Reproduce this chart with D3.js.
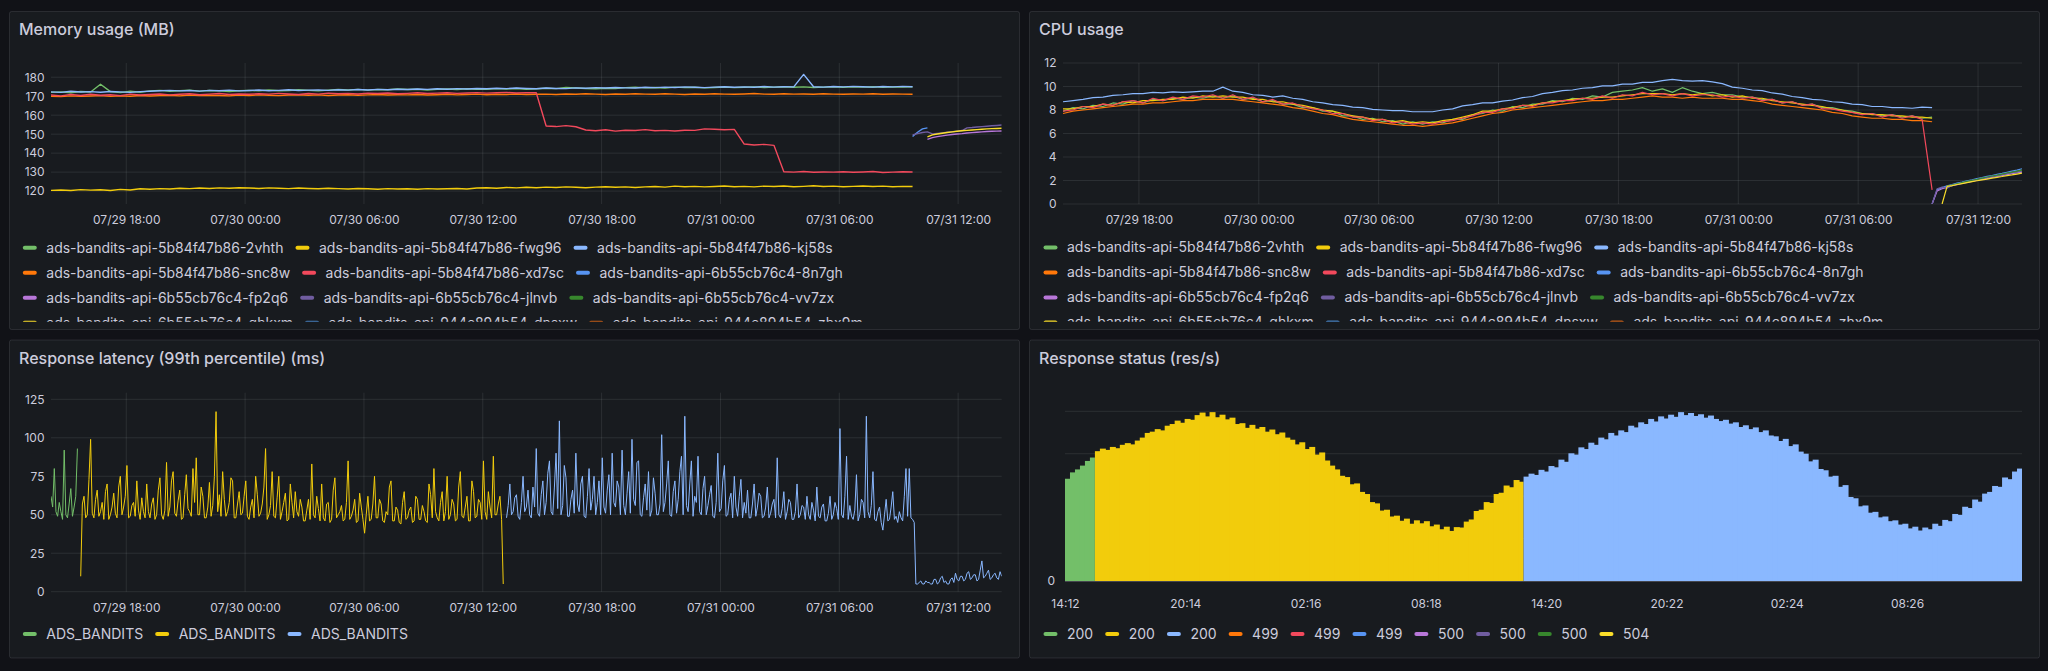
<!DOCTYPE html>
<html lang="en">
<head>
<meta charset="UTF-8">
<title>ads-bandits dashboard</title>
<script src="https://d3js.org/d3.v7.min.js"></script>
<style>
  html, body { margin: 0; padding: 0; background: #111217; }
  svg { display: block; font-family: Inter, "Noto Sans", sans-serif; }
  .panel { fill: #181b1f; stroke: rgba(204, 204, 220, 0.12); }
  .title { fill: #ccccdc; font-size: 16px; font-weight: 500; }
  .grid line { stroke: rgba(240, 250, 255, 0.09); }
  .legend text { fill: #ccccdc; font-size: 14px; }
</style>
</head>
<body>
<script>
// ---------- data ----------
const podNames = [
  'ads-bandits-api-5b84f47b86-2vhth', 'ads-bandits-api-5b84f47b86-fwg96', 'ads-bandits-api-5b84f47b86-kj58s',
  'ads-bandits-api-5b84f47b86-snc8w', 'ads-bandits-api-5b84f47b86-xd7sc', 'ads-bandits-api-6b55cb76c4-8n7gh',
  'ads-bandits-api-6b55cb76c4-fp2q6', 'ads-bandits-api-6b55cb76c4-jlnvb', 'ads-bandits-api-6b55cb76c4-vv7zx',
  'ads-bandits-api-6b55cb76c4-qhkxm', 'ads-bandits-api-944c894b54-dnsxw', 'ads-bandits-api-944c894b54-zhx9m'
];
const podColors = ['#73BF69', '#F2CC0C', '#8AB8FF', '#FF780A', '#F2495C', '#5794F2',
  '#B877D9', '#705DA0', '#37872D', '#FADE2A', '#447EBC', '#C15C17'];

// old pods: one sample every 30 min from 07/29 14:12
const memGreen = [172.0,172.3,171.8,172.5,172.2,176.3,172.4,171.9,172.6,172.1,
  172.8,173.1,172.6,172.9,173.2,172.7,173.0,172.8,172.5,172.9,
  173.1,172.8,173.3,172.9,173.0,173.4,173.1,172.8,173.2,173.5,
  173.3,173.6,173.2,173.5,173.4,173.8,173.5,173.7,173.3,173.6,
  173.8,173.5,173.9,173.6,173.7,174.0,173.8,174.1,173.7,173.9,
  174.2,174.0,174.6,174.3,174.1,173.9,174.2,174.0,174.5,174.7,
  174.4,174.6,174.3,174.8,174.5,174.7,174.4,174.6,174.8,174.5,
  174.7,174.9,174.6,174.8,175.0,174.7,174.9,174.6,174.8,175.0,
  174.7,174.9,174.8,175.0,174.7,174.9,174.8,174.9];
const memYellow = [120.4,120.6,120.3,120.8,120.5,120.7,120.3,120.9,120.6,121.2,
  121.0,121.3,121.1,121.5,121.3,121.6,121.4,121.7,121.5,121.8,
  121.6,121.4,121.7,121.5,121.3,121.6,121.4,121.2,121.5,121.3,
  121.1,121.4,121.2,121.0,121.3,121.1,121.2,121.0,121.3,121.1,
  121.2,121.4,121.1,121.6,121.8,121.5,121.9,121.7,122.0,121.8,
  122.1,121.9,122.2,122.0,121.8,122.1,122.3,122.0,122.2,121.9,
  122.2,122.4,122.1,122.6,122.3,122.5,122.2,122.4,122.7,122.3,
  122.5,122.2,122.6,122.4,122.7,122.3,122.5,122.8,122.4,122.6,
  122.3,122.5,122.7,122.4,122.6,122.3,122.5,122.4];
const memLightBlue = [172.3,172.0,172.6,172.2,172.4,172.1,172.5,172.3,172.0,172.4,
  172.6,172.9,173.1,172.8,173.0,172.7,173.1,172.9,173.2,172.8,
  173.0,173.3,172.9,173.1,173.4,173.0,173.2,173.3,173.1,173.4,
  173.2,173.5,173.3,173.6,173.4,173.7,173.5,173.8,173.6,173.9,
  173.7,174.0,173.8,174.1,173.9,174.2,174.0,174.3,174.1,173.9,
  174.3,174.1,174.0,174.4,174.2,174.5,174.3,174.6,174.4,174.3,
  174.7,174.5,174.8,174.6,174.9,174.7,174.5,174.8,175.0,174.7,
  174.9,174.7,175.1,174.8,175.0,174.9,181.5,175.0,174.8,175.1,
  174.9,175.2,175.0,174.8,175.1,174.9,175.2,175.0];
const memOrange = [170.0,169.8,170.2,169.9,170.1,170.3,169.9,170.2,170.0,170.4,
  170.1,170.3,170.5,170.2,170.6,170.3,170.5,170.4,170.2,170.6,
  170.4,170.7,170.5,170.3,170.6,170.8,170.5,170.7,170.4,170.6,
  170.8,170.5,170.7,170.9,170.6,170.8,170.7,170.9,170.6,170.8,
  171.0,170.7,170.9,171.1,170.8,171.0,170.9,171.2,170.9,171.0,
  171.1,170.9,171.2,171.0,171.3,171.1,170.9,171.2,171.0,171.3,
  171.1,171.0,171.3,171.1,170.9,171.2,171.0,171.3,171.1,171.0,
  171.2,171.4,171.1,171.0,171.3,171.1,171.2,171.0,171.3,171.1,
  171.0,171.2,171.1,171.3,171.0,171.2,171.1,171.0];
const memRed = [170.6,170.2,170.9,170.4,171.0,170.5,170.8,170.3,171.1,170.6,
  170.9,171.2,170.7,171.0,171.3,170.8,171.1,171.4,170.9,171.2,
  171.0,171.3,171.1,171.5,171.2,170.9,171.4,171.1,171.6,171.3,
  171.5,171.2,171.6,171.4,171.7,171.3,171.5,171.8,171.4,171.6,
  171.8,171.5,171.7,171.9,171.6,171.8,172.0,171.7,171.9,171.8,
  154.3,154.0,154.5,153.9,152.2,151.8,152.3,151.6,152.1,151.9,
  152.4,151.8,152.0,151.7,152.1,152.0,152.8,152.6,152.3,152.5,
  144.8,144.3,144.6,144.1,130.2,130.0,130.3,129.9,130.1,130.0,
  130.2,129.9,130.1,130.3,129.8,130.0,130.2,130.1];
// new pods: one sample every 15 min from 07/31 09:42
const mem8n7gh = [148.8,151.0,152.8,153.3];
const memFp2q6 = [null,null,null,147.3,148.2,148.7,149.1,149.5,149.8,150.1,150.3,150.6,150.8,151.0,151.2,151.4,151.5,151.6,151.7];
const memJlnvb = [149.6,150.3,150.9,151.2,150.1,150.4,150.7,151.0,151.3,151.6,151.9,153.3,153.5,153.8,154.0,154.2,154.4,154.6,154.8];
const memQhkxm = [null,null,null,148.6,149.6,150.1,150.5,150.9,151.2,151.5,151.8,152.0,152.2,152.4,152.6,152.8,152.9,153.0,153.1];

const cpuGreen = [7.9,8.2,8.1,8.4,8.3,8.6,8.5,8.8,8.6,8.9,
  8.8,9.0,8.9,9.1,9.0,9.2,9.0,9.2,8.9,9.0,
  8.7,8.8,8.5,8.5,8.2,8.2,7.9,7.9,7.5,7.5,
  7.2,7.3,7.0,7.1,6.8,7.0,6.8,7.0,6.9,7.2,
  7.2,7.6,7.7,8.0,7.9,8.3,8.2,8.5,8.5,8.8,
  8.7,9.0,8.9,9.2,9.1,9.5,9.6,9.7,9.9,9.6,
  9.8,9.5,9.9,9.6,9.4,9.5,9.3,9.3,9.1,9.1,
  8.9,8.9,8.6,8.7,8.4,8.5,8.2,8.2,8.0,7.9,
  7.7,7.7,7.5,7.6,7.4,7.5,7.3,7.4];
const cpuYellow = [8.1,8.1,8.3,8.3,8.5,8.4,8.7,8.6,8.8,8.8,
  8.9,8.9,9.1,9.0,9.2,9.1,9.2,9.1,9.1,8.9,
  8.9,8.7,8.7,8.5,8.4,8.2,8.0,7.9,7.7,7.5,
  7.4,7.2,7.2,7.0,7.1,6.9,7.0,6.9,7.1,7.2,
  7.4,7.6,7.9,7.9,8.1,8.2,8.4,8.4,8.6,8.7,
  8.8,8.9,9.0,9.0,9.1,9.1,9.2,9.3,9.4,9.4,
  9.4,9.3,9.4,9.3,9.4,9.2,9.3,9.1,9.2,9.0,
  9.0,8.8,8.7,8.6,8.5,8.4,8.3,8.1,8.0,7.8,
  7.7,7.6,7.6,7.5,7.5,7.4,7.4,7.3];
const cpuLightBlue = [8.7,8.8,8.9,9.05,9.1,9.25,9.3,9.4,9.4,9.5,
  9.45,9.55,9.5,9.55,9.6,9.6,9.95,9.6,9.5,9.3,
  9.25,9.1,9.2,9.0,8.9,8.7,8.6,8.45,8.4,8.25,
  8.2,8.05,8.0,7.95,7.95,7.85,7.85,7.85,8.0,8.1,
  8.35,8.45,8.6,8.6,8.75,8.85,9.05,9.15,9.4,9.5,
  9.65,9.7,9.85,9.9,10.05,10.05,10.2,10.2,10.35,10.35,
  10.5,10.6,10.5,10.45,10.5,10.4,10.25,9.95,9.85,9.7,
  9.65,9.45,9.35,9.15,9.05,8.9,8.85,8.7,8.65,8.5,
  8.45,8.3,8.3,8.2,8.2,8.15,8.25,8.2];
const cpuOrange = [7.7,7.9,8.0,8.1,8.2,8.3,8.4,8.5,8.5,8.6,
  8.6,8.7,8.8,8.8,8.9,8.9,8.9,8.9,8.8,8.7,
  8.6,8.5,8.4,8.2,8.1,7.9,7.7,7.6,7.4,7.2,
  7.1,7.0,6.9,6.8,6.7,6.7,6.6,6.7,6.8,6.9,
  7.1,7.3,7.5,7.7,7.8,8.0,8.1,8.2,8.3,8.4,
  8.5,8.6,8.7,8.8,8.8,8.9,8.9,9.0,9.1,9.2,
  9.1,9.1,9.0,9.1,9.0,9.0,9.0,8.9,8.9,8.8,
  8.7,8.5,8.4,8.3,8.2,8.1,8.0,7.8,7.7,7.5,
  7.4,7.3,7.3,7.2,7.2,7.1,7.1,7.0];
const cpuRed = [7.9,8.0,8.3,8.2,8.5,8.4,8.7,8.8,8.6,9.0,
  8.8,9.1,8.9,9.2,9.1,9.3,9.0,9.3,8.9,9.1,
  8.7,8.9,8.5,8.6,8.3,8.1,8.0,7.7,7.7,7.4,
  7.4,7.1,7.2,6.9,7.0,6.8,6.9,6.8,7.0,7.1,
  7.3,7.5,7.8,7.8,8.1,8.1,8.4,8.3,8.6,8.6,
  8.8,8.8,9.0,8.9,9.2,9.0,9.3,9.2,9.5,9.3,
  9.4,9.2,9.4,9.2,9.3,9.3,9.1,9.2,9.0,9.1,
  8.8,8.9,8.6,8.7,8.4,8.5,8.1,8.1,7.9,7.8,
  7.6,7.7,7.4,7.6,7.3,7.5,7.2,1.2];
const cpu8n7gh = [0,1.2,1.4,1.55,1.65,1.78,1.86,1.98,2.06,2.17,2.24,2.35,2.42,2.52,2.6,2.7,2.8,2.88,3.0];
const cpuFp2q6 = [0,1.1,1.3,1.42,1.55,1.64,1.75,1.84,1.93,2.02,2.1,2.18,2.26,2.34,2.42,2.5,2.58,2.65,2.72];
const cpuJlnvb = [0,1.3,1.45,1.35,1.6,1.7,1.8,1.9,2.0,2.08,2.16,2.25,2.33,2.4,2.5,2.58,2.66,2.74,2.8];
const cpuVv7zx = [null,null,null,1.52,1.62,1.72,1.82,1.92,2.02,2.1,2.2,2.3,2.38,2.46,2.55,2.64,2.72,2.8,2.88];
const cpuQhkxm = [null,null,0,1.5,1.56,1.66,1.74,1.82,1.9,1.98,2.05,2.12,2.2,2.27,2.34,2.42,2.48,2.55,2.62];

// latency p99 (ms), one sample every 5 min
const latencyNames = ['ADS_BANDITS', 'ADS_BANDITS', 'ADS_BANDITS'];
const latencyColors = ['#73BF69', '#F2CC0C', '#8AB8FF'];
const latencyGreen = [62,55,80,52,49,58,52,47,92,50,48,57,67,49,55,62,93];   // from 14:12
const latencyYellow = [                                                      // from 15:42
  10,57,62,48,50,73,99,51,48,60,66,49,52,58,47,65,70,47,50,55,
  64,51,48,68,75,50,55,62,82,48,49,56,58,49,72,53,47,61,52,48,
  70,52,48,57,61,47,50,66,74,50,47,53,84,49,55,72,78,51,49,59,
  66,47,48,63,76,54,52,49,80,58,87,50,50,68,62,48,48,55,71,49,
  56,75,117,52,63,49,78,60,49,52,58,74,72,48,48,57,65,50,51,62,
  72,49,47,55,60,48,75,63,49,51,57,68,93,47,50,56,78,49,48,61,
  75,47,52,58,64,46,47,70,58,48,65,52,49,60,55,46,46,53,60,47,
  83,50,48,62,54,46,70,48,46,57,58,45,47,66,74,48,50,52,56,46,
  47,58,85,47,49,53,60,45,46,64,55,47,38,50,62,46,47,57,75,48,
  48,60,57,46,45,52,50,68,72,46,46,55,53,45,44,58,65,47,48,53,
  55,45,46,62,60,47,47,56,52,46,45,70,63,48,80,52,48,46,58,65,
  46,52,75,47,50,60,57,46,47,68,78,49,48,55,62,46,46,72,65,48,
  49,60,58,47,85,52,47,65,55,48,88,50,50,57,62,47,5];
const latencyBlue = [                                                        // from 13:12
  48,56,70,50,52,61,63,49,47,58,75,52,55,66,50,48,68,55,93,51,
  49,63,72,50,58,77,85,52,50,68,90,54,111,50,56,82,74,49,49,60,
  66,51,90,57,52,70,75,49,48,62,80,53,60,75,50,58,72,50,87,55,
  51,66,76,50,90,58,55,72,68,50,92,56,50,64,78,51,99,60,56,84,
  85,50,49,61,70,53,78,49,53,74,64,50,50,57,102,52,58,70,85,50,
  49,65,72,51,60,78,88,50,114,56,52,70,85,49,62,58,88,52,50,67,
  75,50,56,63,69,49,48,58,90,52,54,72,82,49,50,60,64,48,75,55,
  49,62,73,48,58,51,66,48,48,57,70,49,55,64,62,48,49,55,68,48,
  51,57,60,48,87,50,48,54,65,47,52,60,58,47,47,52,70,48,50,56,
  55,47,62,50,47,58,53,46,68,49,48,55,57,46,46,51,62,47,50,58,
  54,47,106,50,48,62,88,47,56,49,47,53,76,46,50,60,58,48,114,52,
  48,56,78,47,46,52,55,45,40,50,60,46,47,55,65,47,49,45,52,48,
  46,62,80,49,80,48,47,45,5,5,6,7,5,5,7,6,6,5,5,8,
  8,5,6,9,10,6,7,5,5,8,9,6,12,8,7,10,10,7,8,12,
  13,8,9,11,11,7,8,14,20,9,10,12,14,8,9,11,12,9,8,13,10];

// response status, one bar every 15 min from 14:12
const statusNames = ['200', '200', '200', '499', '499', '499', '500', '500', '500', '504'];
const statusColors = ['#73BF69', '#F2CC0C', '#8AB8FF', '#FF780A', '#F2495C', '#5794F2', '#B877D9', '#705DA0', '#37872D', '#FADE2A'];
const statusTickLabels = ['14:12', '20:14', '02:16', '08:18', '14:20', '20:22', '02:24', '08:26'];
const status200Green = [241,256,263,272,283,291];
const status200Yellow = [306,312,309,316,313,321,325,322,331,338,
  349,352,358,355,366,370,378,373,382,380, 391,397,388,398,386,392,381,385,370,372,
  361,368,359,363,352,357,346,350,338,333, 322,327,311,316,298,303,284,272,263,248,
  245,228,230,210,205,186,183,166,168,152, 154,142,147,135,143,136,141,129,133,122,
  128,118,127,126,140,145,165,168,186,184, 205,208,225,221,238,234];
const status200Blue = [246,253,250,262,258,271,268,286,281,301,
  298,315,311,326,321,338,334,349,343,355, 351,366,362,374,370,382,376,388,383,392,
  387,398,391,396,389,393,385,390,382,377, 380,371,374,363,367,358,362,351,355,343,
  341,330,335,318,322,305,300,282,286,264, 261,246,248,222,226,198,195,176,178,161,
  163,150,152,141,143,133,135,124,128,119, 126,122,135,130,144,141,158,156,175,172,
  192,187,206,210,224,222,244,240,258,265];

// ---------- drawing ----------
const start = new Date(2024, 6, 29, 14, 12);
const at = mins => new Date(start.getTime() + mins * 60000);

const svg = d3.select('body').append('svg').attr('width', 2048).attr('height', 671);

const panels = [
  {x: 9.5, y: 11.5, w: 1010, h: 318, title: 'Memory usage (MB)'},
  {x: 1029.5, y: 11.5, w: 1010, h: 318, title: 'CPU usage'},
  {x: 9.5, y: 340, w: 1010, h: 318, title: 'Response latency (99th percentile) (ms)'},
  {x: 1029.5, y: 340, w: 1010, h: 318, title: 'Response status (res/s)'}
];
panels.forEach(p => {
  svg.append('rect').attr('class', 'panel').attr('x', p.x).attr('y', p.y)
    .attr('width', p.w).attr('height', p.h).attr('rx', 2);
  svg.append('text').attr('class', 'title').attr('x', p.x + 9.5).attr('y', p.y + 23.5).text(p.title);
});

function styleAxis(g) {
  g.attr('font-family', 'Inter, sans-serif').attr('font-size', 12).attr('color', '#ccccdc');
  g.select('.domain').remove();
}

function legend(items, x0, y0, maxW, clipId) {
  const g = svg.append('g').attr('class', 'legend');
  if (clipId) g.attr('clip-path', `url(#${clipId})`);
  let cx = x0, cy = y0;
  items.forEach(it => {
    const item = g.append('g');
    item.append('rect').attr('width', 14).attr('height', 4).attr('rx', 2).attr('y', -2).attr('fill', it.color);
    const t = item.append('text').attr('x', 23.5).attr('dy', '0.35em').text(it.name);
    const w = 23.5 + t.node().getComputedTextLength();
    if (cx + w > x0 + maxW && cx > x0) { cx = x0; cy += 25; }
    item.attr('transform', `translate(${cx},${cy})`);
    cx += w + 12;
  });
}

function timePanel(cfg) {
  const x = d3.scaleTime().domain([start, at(2880)]).range([cfg.left, cfg.right]);
  const y = d3.scaleLinear().domain(cfg.yDomain).range([cfg.bottom, cfg.top]);
  const xTicks = x.ticks(d3.timeHour.every(6));

  const grid = svg.append('g').attr('class', 'grid');
  grid.selectAll('.h').data(cfg.yTicks).join('line')
    .attr('x1', cfg.left).attr('x2', cfg.right).attr('y1', d => y(d)).attr('y2', d => y(d));
  grid.selectAll('.v').data(xTicks).join('line')
    .attr('x1', d => x(d)).attr('x2', d => x(d)).attr('y1', cfg.top).attr('y2', cfg.bottom);

  svg.append('g').attr('transform', `translate(0,${cfg.bottom})`)
    .call(d3.axisBottom(x).tickValues(xTicks).tickFormat(d3.timeFormat('%m/%d %H:%M')).tickSize(0).tickPadding(11.5))
    .call(styleAxis);
  svg.append('g').attr('transform', `translate(${cfg.left},0)`)
    .call(d3.axisLeft(y).tickValues(cfg.yTicks).tickSize(0).tickPadding(6.5))
    .call(styleAxis);

  const clipId = 'clip' + cfg.left + '_' + cfg.top;
  svg.append('clipPath').attr('id', clipId).append('rect')
    .attr('x', cfg.left).attr('y', cfg.top - 2).attr('width', cfg.right - cfg.left).attr('height', cfg.bottom - cfg.top + 2);
  const line = d3.line().defined(d => d[1] != null).x(d => x(d[0])).y(d => y(d[1]));
  const lines = svg.append('g').attr('clip-path', `url(#${clipId})`);
  cfg.series.forEach(s => {
    const pts = s.values.map((v, i) => [at(s.offset + i * s.step), v]);
    lines.append('path').attr('d', line(pts)).attr('fill', 'none')
      .attr('stroke', s.color).attr('stroke-width', cfg.lineWidth).attr('stroke-linejoin', 'round');
  });
}

function podSeries(old, fresh) {
  const out = [];
  old.forEach((v, i) => out.push({values: v, color: podColors[i], offset: 0, step: 30}));
  fresh.forEach(([idx, v]) => out.push({values: v, color: podColors[idx], offset: 2610, step: 15}));
  return out;
}

// Memory
timePanel({
  left: 51, right: 1001.7, top: 63, bottom: 204, yDomain: [113.2, 187.5], yTicks: d3.range(120, 181, 10), lineWidth: 1.4,
  series: podSeries([memGreen, memYellow, memLightBlue, memOrange, memRed],
    [[5, mem8n7gh], [6, memFp2q6], [7, memJlnvb], [9, memQhkxm]])
});
// CPU
timePanel({
  left: 1063, right: 2022, top: 63, bottom: 204, yDomain: [0, 12], yTicks: d3.range(0, 13, 2), lineWidth: 1.2,
  series: podSeries([cpuGreen, cpuYellow, cpuLightBlue, cpuOrange, cpuRed],
    [[5, cpu8n7gh], [6, cpuFp2q6], [7, cpuJlnvb], [8, cpuVv7zx], [9, cpuQhkxm]])
});
// Latency
timePanel({
  left: 51, right: 1001.7, top: 392.7, bottom: 591.7, yDomain: [0, 129.3], yTicks: d3.range(0, 126, 25), lineWidth: 1,
  series: [
    {values: latencyGreen, color: latencyColors[0], offset: 0, step: 5},
    {values: latencyYellow, color: latencyColors[1], offset: 90, step: 5},
    {values: latencyBlue, color: latencyColors[2], offset: 1380, step: 5}
  ]
});

// Response status bars
(function () {
  const left = 1065, right = 2022, top = 411.3, bottom = 581;
  const x = d3.scaleLinear().domain([0, 2880]).range([left, right]);
  const y = d3.scaleLinear().domain([0, 400]).range([bottom, top]);
  svg.append('g').attr('class', 'grid').selectAll('line').data([100, 200, 300, 400]).join('line')
    .attr('x1', left).attr('x2', right).attr('y1', d => y(d)).attr('y2', d => y(d));
  const sets = [
    {values: status200Green, first: 0, color: statusColors[0]},
    {values: status200Yellow, first: 6, color: statusColors[1]},
    {values: status200Blue, first: 92, color: statusColors[2]}
  ];
  const bw = x(15) - x(0);
  sets.forEach(s => {
    const n = s.values.length;
    svg.append('g').selectAll('rect').data(s.values).join('rect')
      .attr('x', (d, i) => x((s.first + i) * 15))
      .attr('width', (d, i) => i < n - 1 ? bw + 1 : bw)
      .attr('y', d => y(d)).attr('height', d => y(0) - y(d)).attr('fill', s.color);
  });
  svg.append('line').attr('x1', left).attr('x2', right).attr('y1', bottom + 0.5).attr('y2', bottom + 0.5)
    .attr('stroke', 'rgba(204,204,220,0.25)');
  svg.append('g').attr('transform', `translate(0,${bottom})`)
    .call(d3.axisBottom(x).tickValues(statusTickLabels.map((d, i) => i * 362))
      .tickFormat((d, i) => statusTickLabels[i]).tickSize(0).tickPadding(18))
    .call(styleAxis);
  svg.append('g').attr('transform', `translate(${left},0)`)
    .call(d3.axisLeft(y).tickValues([0]).tickSize(0).tickPadding(10))
    .call(styleAxis);
})();

// Legends
svg.append('clipPath').attr('id', 'legclip').append('rect').attr('x', 0).attr('y', 232).attr('width', 2048).attr('height', 89.7);
const podItems = podNames.map((n, i) => ({name: n, color: podColors[i]}));
legend(podItems, 22.8, 247.7, 985, 'legclip');
legend(podItems, 1043.5, 247.5, 985, 'legclip');
legend(latencyNames.map((n, i) => ({name: n, color: latencyColors[i]})), 22.8, 634, 985);
legend(statusNames.map((n, i) => ({name: n, color: statusColors[i]})), 1043.5, 634, 985);
</script>
</body>
</html>
